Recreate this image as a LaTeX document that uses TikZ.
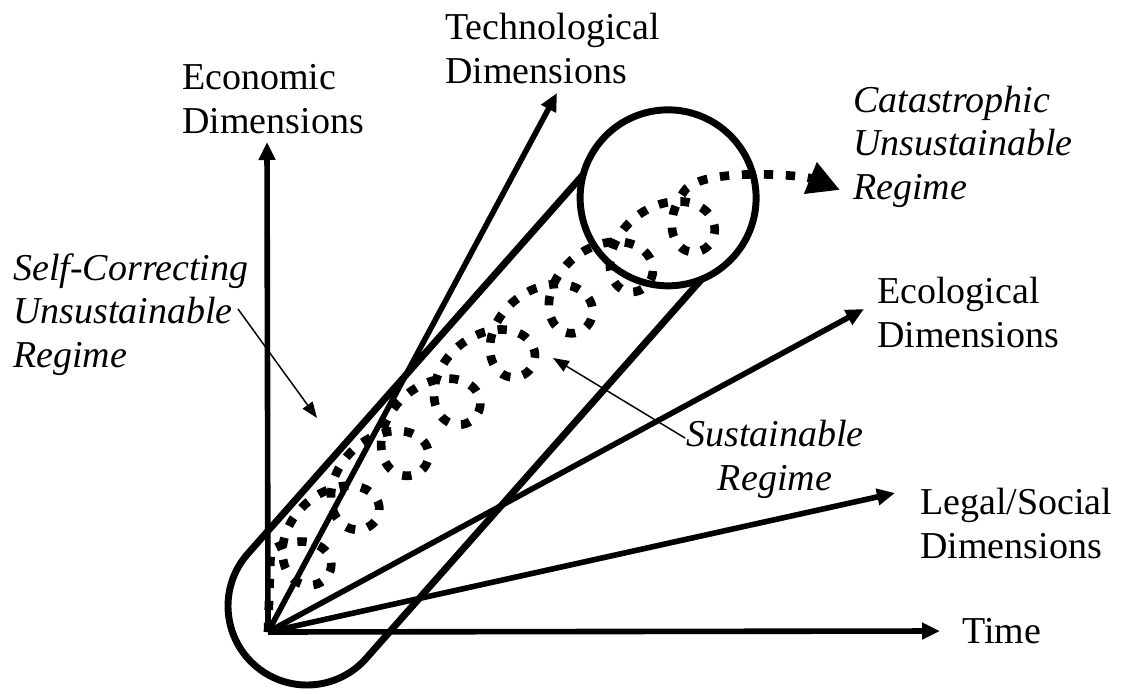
\documentclass[tikz,border=0pt]{standalone}
\usepackage{fontspec}
\setmainfont{Liberation Serif}
\usetikzlibrary{arrows.meta}

\newcommand\labelfont{\fontsize{28.5}{32.5}\selectfont}

\tikzset{
  axisline/.style={line width=4.2pt, -{Triangle[length=13.5pt,width=12pt]}},
  capsuleline/.style={line width=5.2pt},
  spiralline/.style={line width=6.5pt, dash pattern=on 7pt off 9.5pt,
    -{Triangle[length=24pt,width=24pt]}},
  pointer/.style={line width=1.1pt, -{Triangle[length=12pt,width=9pt]}},
  dimlabel/.style={anchor=base west, align=left, inner sep=0pt, font=\labelfont},
  regimelabel/.style={dimlabel, font=\labelfont\itshape}
}

\begin{document}
\begin{tikzpicture}[x=0.75pt, y=-0.75pt]
  \useasboundingbox (0,0) rectangle (1125,693);

  % axes
  \coordinate (O) at (268,632);
  \coordinate (econ) at (267,142);
  \coordinate (tech) at (557,93);
  \coordinate (eco) at (864,309);
  \coordinate (legal) at (895,493);
  \coordinate (time) at (940,631);
  \draw[axisline] (O) -- (econ);
  \draw[axisline] (O) -- (tech);
  \draw[axisline] (O) -- (eco);
  \draw[axisline] (O) -- (legal);
  \draw[axisline] (O) -- (time);

  % capsule
  \begin{scope}[shift={(307,606)}, rotate=48.5]
    \draw[capsuleline] (506,79) -- (0,79) arc[start angle=90, end angle=270, radius=79] -- (506,-79);
    \draw[capsuleline] (545,0) circle[radius=88];
  \end{scope}

  % spiral
  \coordinate (tip) at (840,190);
  \draw[spiralline] (O) -- plot[variable=\t, domain=200:3040, samples=660]
    ({247 + (\t/180*pi*11.6 - 38*sin(\t))*cos(41) - (-32*cos(\t) + 24*sin((\t-360)/2520*180))*sin(41)},
     {604.4 - (\t/180*pi*11.6 - 38*sin(\t))*sin(41) - (-32*cos(\t) + 24*sin((\t-360)/2520*180))*cos(41)})
    .. controls (704,167) and (803,175) .. (tip);

  % labels
  \node[dimlabel] (econlabel) at (182,133) {Economic\\Dimensions};
  \node[dimlabel] (techlabel) at (445,83) {Technological\\Dimensions};
  \node[dimlabel] (ecolabel) at (877,347) {Ecological\\Dimensions};
  \node[dimlabel] (legallabel) at (920,558) {Legal/Social\\Dimensions};
  \node[dimlabel] (timelabel) at (962,643) {Time};
  \node[regimelabel] (catreg) at (853,199) {Catastrophic\\Unsustainable\\Regime};
  \node[regimelabel] (selfreg) at (13,367) {Self-Correcting\\Unsustainable\\Regime};
  \node[regimelabel, align=center] (susreg) at (686,490) {Sustainable\\Regime};

  % pointers
  \coordinate (selftail) at (238,309);
  \coordinate (selfhead) at (317,418);
  \coordinate (sustail) at (685,438);
  \coordinate (sushead) at (553,358);
  \draw[pointer] (selftail) -- (selfhead);
  \draw[pointer] (sustail) -- (sushead);
\end{tikzpicture}
\end{document}
